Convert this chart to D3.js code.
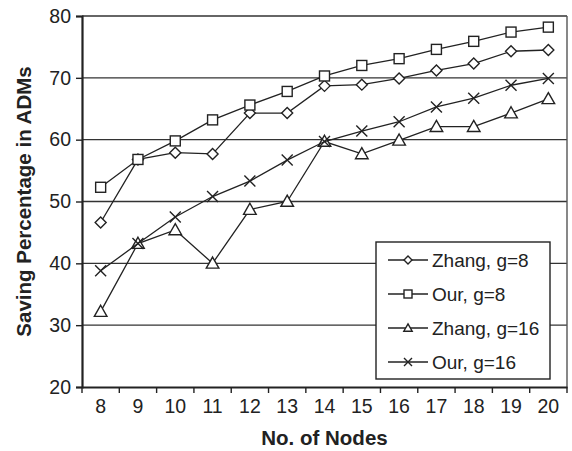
<!DOCTYPE html>
<html>
<head>
<meta charset="utf-8">
<script src="https://cdn.jsdelivr.net/npm/d3@7"></script>
<style>
  html, body { margin: 0; padding: 0; background: #fff; }
  svg { display: block; font-family: "Liberation Sans", Arial, sans-serif; }
</style>
</head>
<body>
<svg id="chart" width="572" height="451"></svg>
<script>
// Number of nodes on the x axis
const nodes = [8, 9, 10, 11, 12, 13, 14, 15, 16, 17, 18, 19, 20];
const yTicks = [20, 30, 40, 50, 60, 70, 80];

// Saving percentage in ADMs for each scheme
const zhangG8 = [46.6, 56.8, 57.9, 57.7, 64.3, 64.3, 68.7, 68.9, 69.9, 71.2, 72.3, 74.3, 74.5];
const ourG8   = [52.3, 56.8, 59.8, 63.2, 65.6, 67.8, 70.3, 72.0, 73.1, 74.6, 75.9, 77.4, 78.2];
const zhangG16 = [32.2, 43.2, 45.4, 40.0, 48.7, 50.0, 59.7, 57.7, 59.9, 62.1, 62.1, 64.3, 66.6];
const ourG16   = [38.8, 43.2, 47.5, 50.8, 53.3, 56.7, 59.7, 61.4, 62.9, 65.3, 66.7, 68.8, 69.9];

const seriesNames = ["Zhang, g=8", "Our, g=8", "Zhang, g=16", "Our, g=16"];
const seriesValues = [zhangG8, ourG8, zhangG16, ourG16];
const seriesMarkers = ["diamond", "square", "triangle", "cross"];

const svg = d3.select("#chart");
const margin = { left: 82, right: 5, top: 16, bottom: 64 };
const W = 572, H = 451;
const x0 = margin.left, x1 = W - margin.right, y0 = margin.top, y1 = H - margin.bottom;

const x = d3.scaleBand().domain(nodes).range([x0, x1]).paddingInner(0).paddingOuter(0);
const y = d3.scaleLinear().domain([20, 80]).range([y1, y0]);

const ink = "#222";

// Horizontal gridlines (the 80 line doubles as the top border)
svg.append("g")
  .selectAll("line")
  .data(yTicks.filter(v => v > 20))
  .join("line")
  .attr("x1", x0).attr("x2", x1)
  .attr("y1", d => y(d)).attr("y2", d => y(d))
  .attr("stroke", "#333").attr("stroke-width", 1.4);

// Right border
svg.append("line")
  .attr("x1", x1).attr("x2", x1).attr("y1", y0).attr("y2", y1)
  .attr("stroke", "#555").attr("stroke-width", 1.4);

// Y axis
const yAxis = svg.append("g")
  .attr("transform", `translate(${x0},0)`)
  .call(d3.axisLeft(y).tickValues(yTicks).tickSize(6).tickPadding(5).tickFormat(d3.format("d")));
yAxis.select(".domain").attr("stroke", ink).attr("stroke-width", 2.2);
yAxis.selectAll(".tick line").attr("stroke", ink).attr("stroke-width", 1.4);
yAxis.selectAll(".tick text").attr("font-size", 19.5).attr("fill", ink)
  .attr("font-family", "Liberation Sans, Arial, sans-serif");

// X axis with ticks on category boundaries
const xAxis = svg.append("g")
  .attr("transform", `translate(0,${y1})`)
  .call(d3.axisBottom(x).tickSize(0).tickPadding(12).tickSizeOuter(0));
xAxis.select(".domain").attr("stroke", ink).attr("stroke-width", 2.2);
xAxis.selectAll(".tick text").attr("font-size", 19.5).attr("fill", ink)
  .attr("font-family", "Liberation Sans, Arial, sans-serif");
xAxis.append("g")
  .selectAll("line")
  .data(nodes.map(d => x(d)).concat([x1]))
  .join("line")
  .attr("x1", d => d).attr("x2", d => d)
  .attr("y1", 0).attr("y2", 6)
  .attr("stroke", ink).attr("stroke-width", 1.4);

// Axis titles
svg.append("text")
  .attr("x", (x0 + x1) / 2).attr("y", 445)
  .attr("text-anchor", "middle")
  .attr("font-size", 20.5).attr("font-weight", "bold").attr("fill", ink)
  .text("No. of Nodes");
svg.append("text")
  .attr("transform", `translate(31,${(y0 + y1) / 2}) rotate(-90)`)
  .attr("text-anchor", "middle")
  .attr("font-size", 20.5).attr("font-weight", "bold").attr("fill", ink)
  .text("Saving Percentage in ADMs");

// Marker drawing helper
function drawMarker(g, type, s) {
  const h = s / 2;
  if (type === "square") {
    g.append("rect").attr("x", -h).attr("y", -h).attr("width", s).attr("height", s)
      .attr("fill", "#fff").attr("stroke", ink).attr("stroke-width", 1.4);
  } else if (type === "diamond") {
    g.append("path").attr("d", `M0,${-h}L${h},0L0,${h}L${-h},0Z`)
      .attr("fill", "#fff").attr("stroke", ink).attr("stroke-width", 1.4);
  } else if (type === "triangle") {
    g.append("path").attr("d", `M0,${-h * 1.05}L${h * 1.05},${h * 0.8}L${-h * 1.05},${h * 0.8}Z`)
      .attr("fill", "#fff").attr("stroke", ink).attr("stroke-width", 1.4);
  } else if (type === "cross") {
    g.append("path").attr("d", `M${-h},${-h}L${h},${h}M${-h},${h}L${h},${-h}`)
      .attr("fill", "none").attr("stroke", ink).attr("stroke-width", 1.4);
  }
}

const markerSize = { square: 10, diamond: 11, triangle: 12, cross: 11 };
const line = d3.line().x((d, i) => x(nodes[i]) + x.bandwidth() / 2).y(d => y(d));

seriesValues.forEach((vals, si) => {
  const g = svg.append("g");
  g.append("path").datum(vals).attr("d", line)
    .attr("fill", "none").attr("stroke", ink).attr("stroke-width", 1.3);
  vals.forEach((v, i) => {
    const m = g.append("g").attr("transform", `translate(${x(nodes[i]) + x.bandwidth() / 2},${y(v)})`);
    drawMarker(m, seriesMarkers[si], markerSize[seriesMarkers[si]]);
  });
});

// Legend
const legend = svg.append("g").attr("transform", "translate(376,242)");
legend.append("rect").attr("width", 174).attr("height", 137)
  .attr("fill", "#fff").attr("stroke", ink).attr("stroke-width", 1.4);
seriesNames.forEach((name, i) => {
  const cy = 18 + i * 34;
  const row = legend.append("g").attr("transform", `translate(0,${cy})`);
  row.append("line").attr("x1", 12).attr("x2", 52).attr("y1", 0).attr("y2", 0)
    .attr("stroke", ink).attr("stroke-width", 1.3);
  const m = row.append("g").attr("transform", "translate(32,0)");
  drawMarker(m, seriesMarkers[i], 8);
  row.append("text").attr("x", 56).attr("y", 0).attr("dy", "0.35em")
    .attr("font-size", 19).attr("fill", ink).text(name);
});
</script>
</body>
</html>
